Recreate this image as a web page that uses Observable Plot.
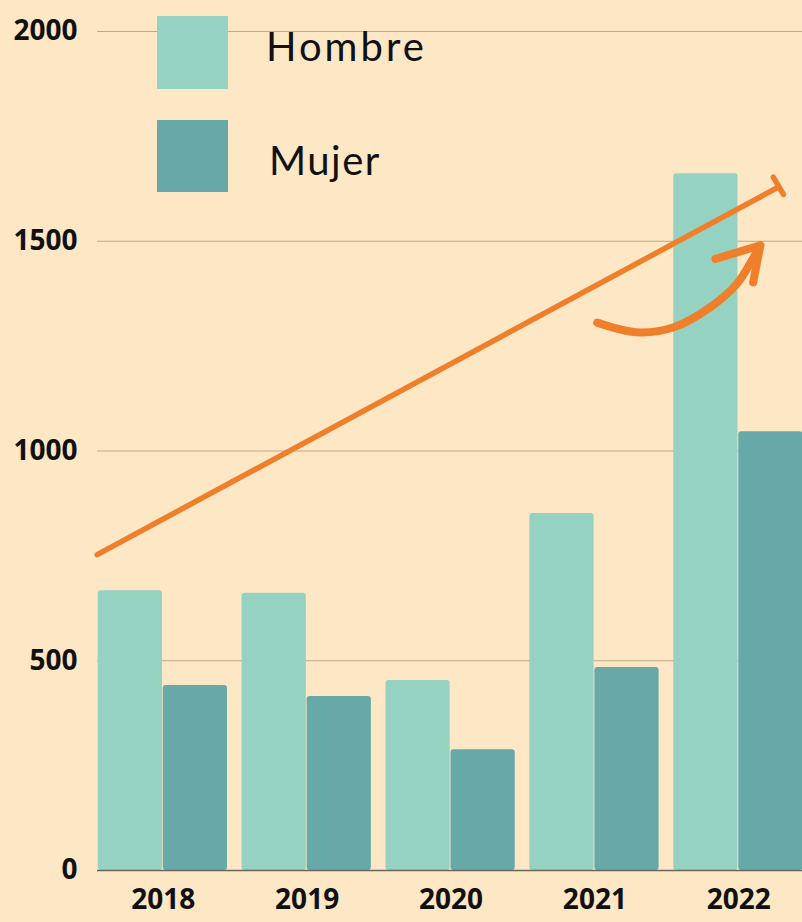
<!DOCTYPE html>
<html>
<head>
<meta charset="utf-8">
<script src="https://cdn.jsdelivr.net/npm/d3@7"></script>
<script src="https://cdn.jsdelivr.net/npm/@observablehq/plot@0.6"></script>
<style>
  html, body { margin: 0; padding: 0; background: #fde7c4; }
  #wrap { position: relative; width: 802px; height: 922px; overflow: hidden; background: #fde7c4; }
  #wrap svg { position: absolute; left: 0; top: 0; }
  .sw { position: absolute; width: 71px; height: 72px; }
  .lab { position: absolute; font-family: Lato, "Open Sans", sans-serif; font-size: 40px; line-height: 40px; letter-spacing: 2px; color: #111; white-space: nowrap; }
</style>
</head>
<body>
<div id="wrap">
  <div class="sw" style="left:157px; top:16px; height:73px; background:#96d2c2"></div>
  <div class="lab" style="left:266px; top:26px; letter-spacing:3px">Hombre</div>
  <div class="sw" style="left:157px; top:120px; background:#67a9a9"></div>
  <div class="lab" style="left:269px; top:140px; letter-spacing:1.5px">Mujer</div>
</div>
<script>
// Data
const years = [2018, 2019, 2020, 2021, 2022];
const hombre = [667, 661, 453, 851, 1661];
const mujer = [441, 415, 288, 484, 1046];
const yTicks = [0, 500, 1000, 1500, 2000];
const series = ["Hombre", "Mujer"];
const colors = ["#96d2c2", "#67a9a9"];

// Decorative annotations (data coordinates: year, value)
const trendLine = [{x: 2017.541, y: 753}, {x: 2022.275, y: 1629}];
const trendCap = [{x: 2022.24, y: 1653}, {x: 2022.31, y: 1612}];
const arrowPath = [
  {x: 2021.016, y: 1306}, {x: 2021.294, y: 1283}, {x: 2021.548, y: 1295},
  {x: 2021.803, y: 1343}, {x: 2021.988, y: 1399}, {x: 2022.104, y: 1462},
  {x: 2022.150, y: 1490}
];
const arrowHead = [{x: 2021.838, y: 1458}, {x: 2022.150, y: 1490}, {x: 2022.100, y: 1402}];

const rows = [];
years.forEach((yr, i) => {
  rows.push({year: yr, sex: "Hombre", value: hombre[i]});
  rows.push({year: yr, sex: "Mujer", value: mujer[i]});
});

const barW = 0.452;
const orange = "#f07f2c";

const chart = Plot.plot({
  width: 802,
  height: 922,
  marginLeft: 97,
  marginRight: 0,
  marginTop: 31,
  marginBottom: 52,
  style: {background: "transparent", fontFamily: "'Open Sans', sans-serif", fontSize: "28px", fontWeight: "bold", color: "#111"},
  x: {type: "linear", domain: [2017.543, 2022.443], ticks: years, tickFormat: d => String(d), tickSize: 0, tickPadding: 19, label: null},
  y: {domain: [0, 2000], ticks: yTicks, tickFormat: d => String(d), tickSize: 0, tickPadding: 20, label: null},
  color: {domain: series, range: colors},
  marks: [
    Plot.ruleY(yTicks.filter(d => d > 0), {stroke: "#bfa98d", strokeWidth: 1}),
    Plot.rectY(rows, {
      x1: d => d.year + (d.sex === "Hombre" ? -barW : 0),
      x2: d => d.year + (d.sex === "Hombre" ? 0 : barW),
      y: "value",
      fill: "sex",
      insetRight: 0.8,
      rx: 3
    }),
    Plot.ruleY([0], {stroke: "#6b6359", strokeWidth: 1.5}),
    Plot.line(trendLine, {x: "x", y: "y", stroke: orange, strokeWidth: 5.5, strokeLinecap: "round"}),
    Plot.line(trendCap, {x: "x", y: "y", stroke: orange, strokeWidth: 5.5, strokeLinecap: "round"}),
    Plot.line(arrowPath, {x: "x", y: "y", stroke: orange, strokeWidth: 8, strokeLinecap: "round", curve: "catmull-rom"}),
    Plot.line(arrowHead, {x: "x", y: "y", stroke: orange, strokeWidth: 8, strokeLinecap: "round", strokeLinejoin: "round"})
  ]
});
document.getElementById("wrap").prepend(chart);
</script>
</body>
</html>
